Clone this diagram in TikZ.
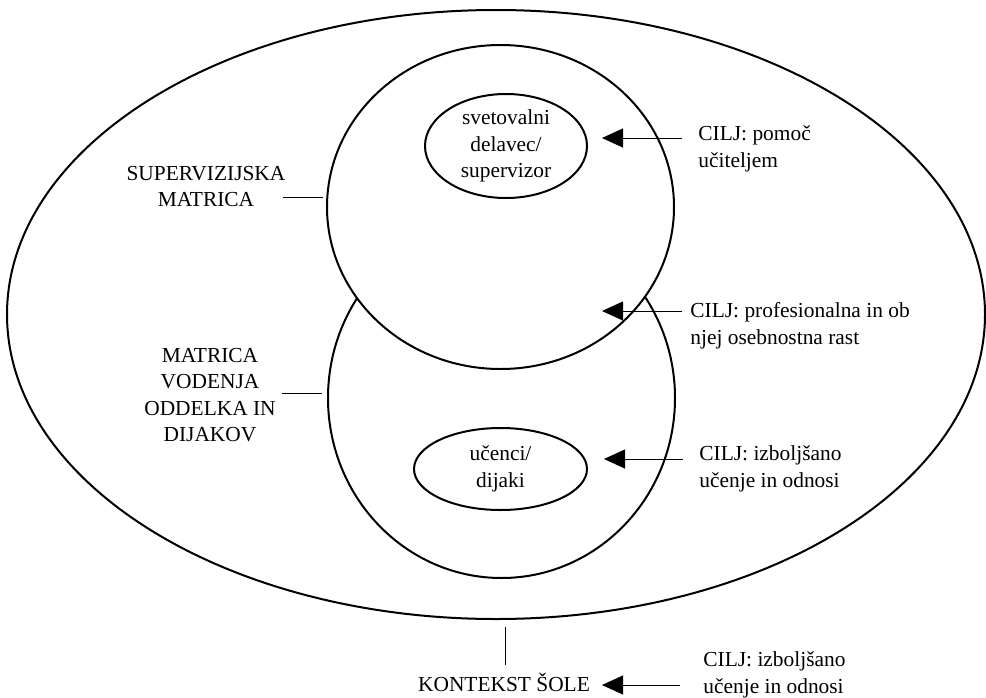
\documentclass[tikz,border=0pt]{standalone}
\usepackage{fontspec}
\setmainfont{Liberation Serif}
\usetikzlibrary{shapes.geometric,arrows.meta}
\begin{document}
\begin{tikzpicture}[x=0.5pt,y=-0.5pt,
    txt/.style={inner sep=0pt,font=\fontsize{10.7}{13.2}\selectfont},
    ring/.style={draw,ellipse,line width=1pt,inner sep=0pt,txt,align=center},
    lbl/.style={txt,align=center,anchor=north},
    goal/.style={txt,align=left,anchor=north west},
    link/.style={line width=0.45pt},
    toward/.style={line width=0.45pt,-{Triangle[length=10.5pt,width=9.5pt]}}]
  \useasboundingbox (0,0) rectangle (986,697);
  \node[ring,minimum width=489pt,minimum height=304.5pt] (kontekst) at (496,314.5) {};
  \node[ring,minimum width=173.5pt,minimum height=180pt] (vodenje) at (501.5,398) {};
  \node[ring,fill=white,minimum width=173.5pt,minimum height=162pt] (supervizija) at (500.5,207) {};
  \node[ring,minimum width=81pt,minimum height=52pt] (svetovalec) at (506,146) {svetovalni\\delavec/\\supervizor};
  \node[ring,minimum width=86.5pt,minimum height=41pt] (ucenci) at (500.5,469) {učenci/\\dijaki};
  \draw
    (206,165.5) node[lbl] (supmat) {SUPERVIZIJSKA\\MATRICA}
    (210,348) node[lbl] (vodmat) {MATRICA\\VODENJA\\ODDELKA IN\\DIJAKOV}
    (504,691) node[txt,anchor=base] (sola) {KONTEKST ŠOLE}
    (698,125.5) node[goal] (cpomoc) {CILJ: pomoč\\učiteljem}
    (690,302.5) node[goal] (crast) {CILJ: profesionalna in ob\\njej osebnostna rast}
    (699,445.5) node[goal] (cucenje) {CILJ: izboljšano\\učenje in odnosi}
    (703,651.5) node[goal] (csola) {CILJ: izboljšano\\učenje in odnosi};
  \coordinate (supa) at (283,197);
  \coordinate (supb) at (323,197);
  \coordinate (voda) at (282,393);
  \coordinate (vodb) at (322,393);
  \coordinate (kona) at (505,627);
  \coordinate (konb) at (505,665);
  \coordinate (tipa) at (602,138);
  \coordinate (taila) at (682,138);
  \coordinate (tipb) at (602,311);
  \coordinate (tailb) at (682,311);
  \coordinate (tipc) at (604,459);
  \coordinate (tailc) at (683,459);
  \coordinate (tipd) at (602,685);
  \coordinate (taild) at (680,685);
  \begin{scope}[link]
    \draw (supa) to (supb);
    \draw (voda) to (vodb);
    \draw (kona) to (konb);
  \end{scope}
  \begin{scope}[toward]
    \draw (taila) to (tipa);
    \draw (tailb) to (tipb);
    \draw (tailc) to (tipc);
    \draw (taild) to (tipd);
  \end{scope}
\end{tikzpicture}
\end{document}
